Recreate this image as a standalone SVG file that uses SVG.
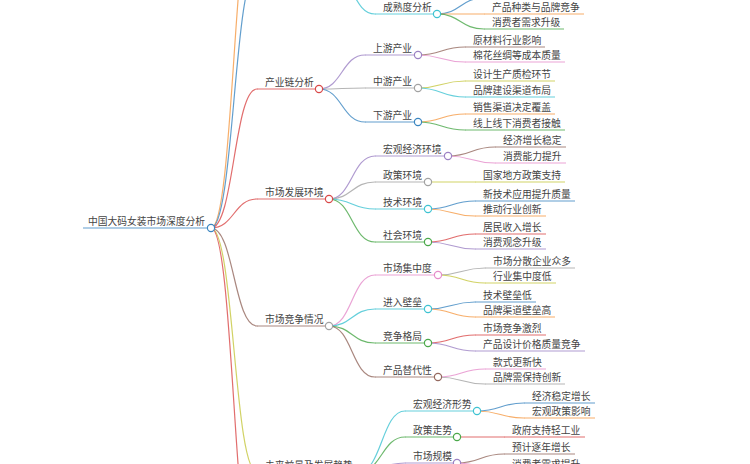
<svg xmlns="http://www.w3.org/2000/svg" width="750" height="464" viewBox="0 0 750 464">
<style>
  .l{fill:none;stroke-width:1.2;stroke-linecap:round;stroke-opacity:0.8}
  .u{fill:none;stroke-width:1.2;stroke-opacity:0.8}
  .d{fill:#fff;stroke-width:1.2}
  text{font-family:"Noto Sans CJK SC","Noto Sans",sans-serif;font-size:9.75px;fill:#444}
  .blue{stroke:#3b86c0}.orange{stroke:#f59a45}.green{stroke:#4aa84a}.red{stroke:#d94848}
  .purple{stroke:#9c82c4}.brown{stroke:#94695f}.pink{stroke:#e58ccb}.gray{stroke:#a2a2a2}
  .olive{stroke:#c6c73e}.cyan{stroke:#3ec3d2}
</style>
<rect width="750" height="464" fill="#fff"/>
<g id="connectors">
  <path class="l orange" d="M211 228C234 228 234 -114 257 -114"/>
  <path class="l blue" d="M211 228C234 228 234 -29 257 -29"/>
  <path class="l red" d="M211 228C234 228 234 89 257 89"/>
  <path class="l red" d="M211 228C234 228 234 199 257 199"/>
  <path class="l brown" d="M211 228C234 228 234 326 257 326"/>
  <path class="l olive" d="M211 228C234 228 234 472 257 472"/>
  <path class="l red" d="M211 228C234 228 234 582 257 582"/>
  <path class="l cyan" d="M330 -29C352.5 -29 352.5 14 375 14"/>
  <path class="l blue" d="M437 14C460.5 14 460.5 -2 484 -2"/>
  <path class="l orange" d="M437 14H484"/>
  <path class="l green" d="M437 14C460.5 14 460.5 29 484 29"/>
  <path class="l purple" d="M319 89C342 89 342 55 365 55"/>
  <path class="l gray" d="M319 89C342 89 342 88 365 88"/>
  <path class="l blue" d="M319 89C342 89 342 122 365 122"/>
  <path class="l brown" d="M418 55C441.5 55 441.5 47 465 47"/>
  <path class="l pink" d="M418 55C441.5 55 441.5 62 465 62"/>
  <path class="l olive" d="M418 88C441.5 88 441.5 81 465 81"/>
  <path class="l cyan" d="M418 88C441.5 88 441.5 97 465 97"/>
  <path class="l orange" d="M418 122C441.5 122 441.5 114 465 114"/>
  <path class="l green" d="M418 122C441.5 122 441.5 130 465 130"/>
  <path class="l purple" d="M329 199C352 199 352 156 375 156"/>
  <path class="l gray" d="M329 199C352 199 352 182 375 182"/>
  <path class="l cyan" d="M329 199C352 199 352 209 375 209"/>
  <path class="l green" d="M329 199C352 199 352 242 375 242"/>
  <path class="l brown" d="M448 156C471.5 156 471.5 147 495 147"/>
  <path class="l pink" d="M448 156C471.5 156 471.5 163 495 163"/>
  <path class="l olive" d="M428 182H475"/>
  <path class="l blue" d="M428 209C451.5 209 451.5 201 475 201"/>
  <path class="l orange" d="M428 209C451.5 209 451.5 216 475 216"/>
  <path class="l red" d="M428 242C451.5 242 451.5 234 475 234"/>
  <path class="l purple" d="M428 242C451.5 242 451.5 249 475 249"/>
  <path class="l pink" d="M329 326C352 326 352 275 375 275"/>
  <path class="l cyan" d="M329 326C352 326 352 309 375 309"/>
  <path class="l green" d="M329 326C352 326 352 343 375 343"/>
  <path class="l brown" d="M329 326C352 326 352 377 375 377"/>
  <path class="l gray" d="M438 275C461.5 275 461.5 268 485 268"/>
  <path class="l olive" d="M438 275C461.5 275 461.5 283 485 283"/>
  <path class="l blue" d="M428 309C451.5 309 451.5 302 475 302"/>
  <path class="l orange" d="M428 309C451.5 309 451.5 317 475 317"/>
  <path class="l red" d="M428 343C451.5 343 451.5 335 475 335"/>
  <path class="l purple" d="M428 343C451.5 343 451.5 351 475 351"/>
  <path class="l pink" d="M438 377C461.5 377 461.5 369 485 369"/>
  <path class="l gray" d="M438 377C461.5 377 461.5 384 485 384"/>
  <path class="l cyan" d="M358.5 472C381.75 472 381.75 411 405 411"/>
  <path class="l green" d="M358.5 472C381.75 472 381.75 437 405 437"/>
  <path class="l purple" d="M358.5 472C381.75 472 381.75 463 405 463"/>
  <path class="l blue" d="M477 411C500.5 411 500.5 403 524 403"/>
  <path class="l orange" d="M477 411C500.5 411 500.5 418 524 418"/>
  <path class="l red" d="M457 437H504"/>
  <path class="l brown" d="M457 463C480.5 463 480.5 454 504 454"/>
  <path class="l pink" d="M457 463C480.5 463 480.5 471 504 471"/>
</g>
<g id="n-root"><path class="u blue" d="M83 228H207.5"/><circle class="d blue" cx="211" cy="228" r="3.6"/><text x="88" y="225">中国大码女装市场深度分析</text></g>

<g id="n-chain"><path class="u red" d="M257 89H315.5"/><circle class="d red" cx="319" cy="89" r="3.6"/><text x="265" y="86">产业链分析</text></g>
<g id="n-env"><path class="u red" d="M257 199H325.5"/><circle class="d red" cx="329" cy="199" r="3.6"/><text x="265" y="196">市场发展环境</text></g>
<g id="n-comp"><path class="u brown" d="M257 326H325.5"/><circle class="d gray" cx="329" cy="326" r="3.6"/><text x="265" y="323">市场竞争情况</text></g>
<g id="n-future"><path class="u olive" d="M257 472H355"/><circle class="d olive" cx="358.5" cy="472" r="3.6"/><text x="265" y="469">未来前景及发展趋势</text></g>

<g id="n-mature"><path class="u cyan" d="M375 14H433.5"/><circle class="d cyan" cx="437" cy="14" r="3.6"/><text x="383" y="11">成熟度分析</text></g>
<g id="n-mature-1"><path class="u orange" d="M484 14H584"/><text x="492" y="11">产品种类与品牌竞争</text></g>
<g id="n-mature-2"><path class="u green" d="M484 29H564"/><text x="492" y="26">消费者需求升级</text></g>

<g id="n-up"><path class="u purple" d="M365 55H414.5"/><circle class="d purple" cx="418" cy="55" r="3.6"/><text x="373" y="52">上游产业</text></g>
<g id="n-up-1"><path class="u brown" d="M465 47H545"/><text x="473" y="44">原材料行业影响</text></g>
<g id="n-up-2"><path class="u pink" d="M465 62H565"/><text x="473" y="59">棉花丝绸等成本质量</text></g>
<g id="n-mid"><path class="u gray" d="M365 88H414.5"/><circle class="d gray" cx="418" cy="88" r="3.6"/><text x="373" y="85">中游产业</text></g>
<g id="n-mid-1"><path class="u olive" d="M465 81H555"/><text x="473" y="78">设计生产质检环节</text></g>
<g id="n-mid-2"><path class="u cyan" d="M465 97H555"/><text x="473" y="94">品牌建设渠道布局</text></g>
<g id="n-down"><path class="u blue" d="M365 122H414.5"/><circle class="d blue" cx="418" cy="122" r="3.6"/><text x="373" y="119">下游产业</text></g>
<g id="n-down-1"><path class="u orange" d="M465 114H555"/><text x="473" y="111">销售渠道决定覆盖</text></g>
<g id="n-down-2"><path class="u green" d="M465 130H565"/><text x="473" y="127">线上线下消费者接触</text></g>

<g id="n-macro"><path class="u purple" d="M375 156H444.5"/><circle class="d purple" cx="448" cy="156" r="3.6"/><text x="383" y="153">宏观经济环境</text></g>
<g id="n-macro-1"><path class="u brown" d="M495 147H566"/><text x="503" y="144">经济增长稳定</text></g>
<g id="n-macro-2"><path class="u pink" d="M495 163H566"/><text x="503" y="160">消费能力提升</text></g>
<g id="n-policy"><path class="u gray" d="M375 182H424.5"/><circle class="d gray" cx="428" cy="182" r="3.6"/><text x="383" y="179">政策环境</text></g>
<g id="n-policy-1"><path class="u olive" d="M475 182H565"/><text x="483" y="179">国家地方政策支持</text></g>
<g id="n-tech"><path class="u cyan" d="M375 209H424.5"/><circle class="d cyan" cx="428" cy="209" r="3.6"/><text x="383" y="206">技术环境</text></g>
<g id="n-tech-1"><path class="u blue" d="M475 201H575"/><text x="483" y="198">新技术应用提升质量</text></g>
<g id="n-tech-2"><path class="u orange" d="M475 216H546"/><text x="483" y="213">推动行业创新</text></g>
<g id="n-social"><path class="u green" d="M375 242H424.5"/><circle class="d green" cx="428" cy="242" r="3.6"/><text x="383" y="239">社会环境</text></g>
<g id="n-social-1"><path class="u red" d="M475 234H546"/><text x="483" y="231">居民收入增长</text></g>
<g id="n-social-2"><path class="u purple" d="M475 249H546"/><text x="483" y="246">消费观念升级</text></g>

<g id="n-conc"><path class="u pink" d="M375 275H434.5"/><circle class="d pink" cx="438" cy="275" r="3.6"/><text x="383" y="272">市场集中度</text></g>
<g id="n-conc-1"><path class="u gray" d="M485 268H575"/><text x="493" y="265">市场分散企业众多</text></g>
<g id="n-conc-2"><path class="u olive" d="M485 283H556"/><text x="493" y="280">行业集中度低</text></g>
<g id="n-entry"><path class="u cyan" d="M375 309H424.5"/><circle class="d cyan" cx="428" cy="309" r="3.6"/><text x="383" y="306">进入壁垒</text></g>
<g id="n-entry-1"><path class="u blue" d="M475 302H536"/><text x="483" y="299">技术壁垒低</text></g>
<g id="n-entry-2"><path class="u orange" d="M475 317H555"/><text x="483" y="314">品牌渠道壁垒高</text></g>
<g id="n-pattern"><path class="u green" d="M375 343H424.5"/><circle class="d green" cx="428" cy="343" r="3.6"/><text x="383" y="340">竞争格局</text></g>
<g id="n-pattern-1"><path class="u red" d="M475 335H546"/><text x="483" y="332">市场竞争激烈</text></g>
<g id="n-pattern-2"><path class="u purple" d="M475 351H585"/><text x="483" y="348">产品设计价格质量竞争</text></g>
<g id="n-subst"><path class="u brown" d="M375 377H434.5"/><circle class="d brown" cx="438" cy="377" r="3.6"/><text x="383" y="374">产品替代性</text></g>
<g id="n-subst-1"><path class="u pink" d="M485 369H546"/><text x="493" y="366">款式更新快</text></g>
<g id="n-subst-2"><path class="u gray" d="M485 384H565"/><text x="493" y="381">品牌需保持创新</text></g>

<g id="n-fmacro"><path class="u cyan" d="M405 411H473.5"/><circle class="d cyan" cx="477" cy="411" r="3.6"/><text x="413" y="408">宏观经济形势</text></g>
<g id="n-fmacro-1"><path class="u blue" d="M524 403H595"/><text x="532" y="400">经济稳定增长</text></g>
<g id="n-fmacro-2"><path class="u orange" d="M524 418H595"/><text x="532" y="415">宏观政策影响</text></g>
<g id="n-fpolicy"><path class="u green" d="M405 437H453.5"/><circle class="d green" cx="457" cy="437" r="3.6"/><text x="413" y="434">政策走势</text></g>
<g id="n-fpolicy-1"><path class="u red" d="M504 437H585"/><text x="512" y="434">政府支持轻工业</text></g>
<g id="n-fscale"><path class="u purple" d="M405 463H453.5"/><circle class="d purple" cx="457" cy="463" r="3.6"/><text x="413" y="460">市场规模</text></g>
<g id="n-fscale-1"><path class="u brown" d="M504 454H575"/><text x="512" y="451">预计逐年增长</text></g>
<g id="n-fscale-2"><path class="u pink" d="M504 471H585"/><text x="512" y="468">消费者需求提升</text></g>
</svg>
